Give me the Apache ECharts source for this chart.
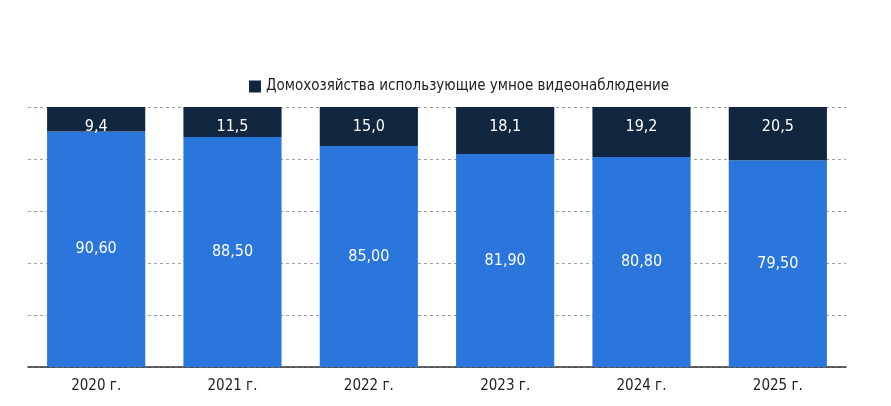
<!DOCTYPE html>
<html>
<head>
<meta charset="utf-8">
<script src="https://cdn.jsdelivr.net/npm/echarts@6/dist/echarts.min.js"></script>
<style>
  html, body { margin: 0; padding: 0; background: #fff; }
  #chart { width: 891px; height: 406px; }
</style>
</head>
<body>
<div id="chart"></div>
<script>
// данные
const years = ['2020 г.', '2021 г.', '2022 г.', '2023 г.', '2024 г.', '2025 г.'];
const otherShare = [90.6, 88.5, 85.0, 81.9, 80.8, 79.5];
const videoShare = [9.4, 11.5, 15.0, 18.1, 19.2, 20.5];
const videoName = 'Домохозяйства использующие умное видеонаблюдение';

const font = "'Liberation Sans Narrow', 'DejaVu Sans Condensed', sans-serif";

const chart = echarts.init(document.getElementById('chart'));

chart.setOption({
  animation: false,
  textStyle: { fontFamily: font },
  legend: {
    data: [videoName],
    top: 74,
    left: 244,
    itemWidth: 12,
    itemHeight: 12,
    itemGap: 4,
    icon: 'rect',
    textStyle: { fontFamily: font, fontSize: 15, color: '#222' }
  },
  grid: { left: 28, right: 45, top: 107, bottom: 39 },
  xAxis: {
    type: 'category',
    data: years,
    axisTick: { show: false },
    axisLine: { lineStyle: { color: '#333', width: 1.5 } },
    axisLabel: { fontFamily: font, fontSize: 15, color: '#222', margin: 12 }
  },
  yAxis: {
    type: 'value',
    min: 0,
    max: 100,
    interval: 20,
    axisLabel: { show: false },
    axisLine: { show: false },
    axisTick: { show: false },
    splitLine: { lineStyle: { type: [3, 3], color: '#a0a0a0', width: 1 } }
  },
  series: [
    {
      name: 'Прочие',
      type: 'bar',
      stack: 'all',
      barWidth: '72%',
      data: otherShare,
      itemStyle: { color: '#2a76dc' },
      label: {
        show: true,
        position: 'inside',
        color: '#fff',
        fontFamily: font,
        fontSize: 16,
        formatter: p => p.value.toFixed(2).replace('.', ',')
      }
    },
    {
      name: videoName,
      type: 'bar',
      stack: 'all',
      barWidth: '72%',
      data: videoShare,
      itemStyle: { color: '#10273f' },
      label: {
        show: true,
        position: 'insideTop',
        distance: 12,
        color: '#fff',
        fontFamily: font,
        fontSize: 16,
        formatter: p => p.value.toFixed(1).replace('.', ',')
      }
    }
  ]
});
</script>
</body>
</html>
